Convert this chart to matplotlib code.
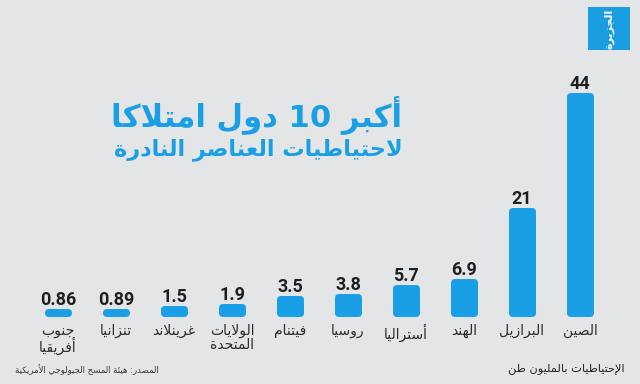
import re
import numpy as np
import matplotlib
matplotlib.use("Agg")
import matplotlib.pyplot as plt
from matplotlib.patches import Rectangle


# data, ranked from largest to smallest (drawn right to left)
countries = ["الصين", "البرازيل", "الهند", "أستراليا", "روسيا", "فيتنام",
             "الولايات\nالمتحدة", "غرينلاند", "تنزانيا", "جنوب\nأفريقيا"]
reserves = [44, 21, 6.9, 5.7, 3.8, 3.5, 1.9, 1.5, 0.89, 0.86]
value_labels = ["44", "21", "6.9", "5.7", "3.8", "3.5", "1.9", "1.5", "0.89", "0.86"]

title = "أكبر 10 دول امتلاكا"
subtitle = "لاحتياطيات العناصر النادرة"
source = "المصدر: هيئة المسح الجيولوجي الأمريكية"
units = "الإحتياطيات بالمليون طن"
logo_text = "الجزيرة"

BG = "#e4e5e7"
BLUE = "#189fe6"
BASE = 0.66  # bars start a touch above zero, edge rounding pads them out


# matplotlib has no arabic shaping, so do the joining + rtl order by hand
ARABIC = {
    "ء": (0xFE80, 1), "آ": (0xFE81, 2), "أ": (0xFE83, 2), "ؤ": (0xFE85, 2),
    "إ": (0xFE87, 2), "ئ": (0xFE89, 4), "ا": (0xFE8D, 2), "ب": (0xFE8F, 4),
    "ة": (0xFE93, 2), "ت": (0xFE95, 4), "ث": (0xFE99, 4), "ج": (0xFE9D, 4),
    "ح": (0xFEA1, 4), "خ": (0xFEA5, 4), "د": (0xFEA9, 2), "ذ": (0xFEAB, 2),
    "ر": (0xFEAD, 2), "ز": (0xFEAF, 2), "س": (0xFEB1, 4), "ش": (0xFEB5, 4),
    "ص": (0xFEB9, 4), "ض": (0xFEBD, 4), "ط": (0xFEC1, 4), "ظ": (0xFEC5, 4),
    "ع": (0xFEC9, 4), "غ": (0xFECD, 4), "ف": (0xFED1, 4), "ق": (0xFED5, 4),
    "ك": (0xFED9, 4), "ل": (0xFEDD, 4), "م": (0xFEE1, 4), "ن": (0xFEE5, 4),
    "ه": (0xFEE9, 4), "و": (0xFEED, 2), "ى": (0xFEEF, 2), "ي": (0xFEF1, 4),
}
LAM_ALEF = {"آ": 0xFEF5, "أ": 0xFEF7, "إ": 0xFEF9, "ا": 0xFEFB}


def shape_line(s):
    out = []
    i = 0
    while i < len(s):
        c = s[i]
        if c not in ARABIC:
            out.append(c)
            i += 1
            continue
        prev = s[i - 1] if i > 0 else ""
        joins_prev = prev in ARABIC and ARABIC[prev][1] == 4
        if c == "ل" and i + 1 < len(s) and s[i + 1] in LAM_ALEF:
            out.append(chr(LAM_ALEF[s[i + 1]] + (1 if joins_prev else 0)))
            i += 2
            continue
        base, forms = ARABIC[c]
        nxt = s[i + 1] if i + 1 < len(s) else ""
        joins_next = forms == 4 and nxt in ARABIC
        if joins_prev and joins_next:
            k = 3
        elif joins_prev:
            k = 1 if forms > 1 else 0
        elif joins_next:
            k = 2
        else:
            k = 0
        out.append(chr(base + k))
        i += 1
    vis = "".join(out)[::-1]
    return re.sub(r"[0-9][0-9.]*", lambda m: m.group(0)[::-1], vis)


def ar(s):
    return "\n".join(shape_line(line) for line in s.split("\n"))


def fx(x):
    return x / 640


def fy(y):
    return 1 - y / 384


fig = plt.figure(figsize=(6.4, 3.84), dpi=100)
fig.patch.set_facecolor(BG)
renderer = fig.canvas.get_renderer()


def fit_width(t, target_px):
    w = t.get_window_extent(renderer).width
    t.set_fontsize(t.get_fontsize() * target_px / w)


ax = fig.add_axes([fx(29), fy(313), 580 / 640, 253 / 384])
ax.set_facecolor("none")
ax.set_xlim(-0.5, 9.5)
ax.set_ylim(BASE, BASE + 253 / 5.007)
ax.axis("off")

pos = np.arange(len(countries))[::-1]
heights = np.array(reserves) - BASE
bars = ax.bar(pos, heights, bottom=BASE, width=0.36, color=BLUE,
              edgecolor=BLUE, linewidth=5.0, joinstyle="round", clip_on=False)

for p, v, lbl, name in zip(pos, reserves, value_labels, countries):
    ax.annotate(lbl, (p, v), xytext=(0, 5), textcoords="offset points",
                ha="center", va="baseline", fontsize=13, fontweight="bold",
                family="Roboto", color="#1e1e1e", annotation_clip=False)
    ax.text(p, -11 / 253, ar(name), transform=ax.get_xaxis_transform(),
            ha="center", va="top", fontsize=10, family="DejaVu Sans",
            color="#2b2b2b", linespacing=0.95)

t1 = fig.text(fx(402), fy(127), ar(title), ha="right", va="baseline",
              fontsize=22, fontweight="bold", family="DejaVu Sans", color=BLUE)
fit_width(t1, 290)
t2 = fig.text(fx(403), fy(155), ar(subtitle), ha="right", va="baseline",
              fontsize=15, fontweight="bold", family="DejaVu Sans", color=BLUE)
fit_width(t2, 290)

t3 = fig.text(fx(15), fy(370), ar(source), ha="left", va="center",
              fontsize=6, family="DejaVu Sans", color="#3a3a3a")
fit_width(t3, 145)
t4 = fig.text(fx(625), fy(369), ar(units), ha="right", va="center",
              fontsize=7, family="DejaVu Sans", color="#222222")
fit_width(t4, 117)

# logo block
fig.patches.append(Rectangle((fx(588), fy(50)), 42 / 640, 43 / 384,
                             transform=fig.transFigure, facecolor="#1b9de2",
                             edgecolor="none"))
fig.text(fx(609), fy(28.5), ar(logo_text), ha="center", va="center",
         rotation=90, fontsize=8, fontweight="bold", family="DejaVu Sans",
         color="white")

fig.savefig("out.png", dpi=100, facecolor=BG)
